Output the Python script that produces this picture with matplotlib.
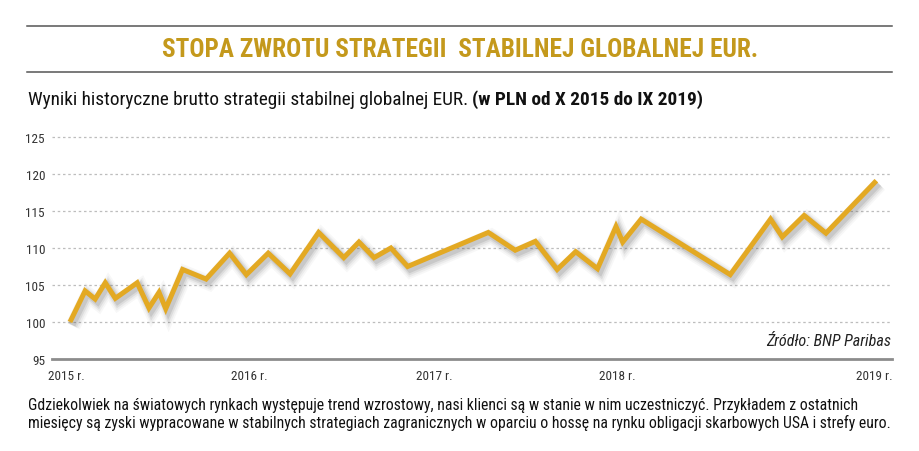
import matplotlib
matplotlib.use("Agg")
import matplotlib.pyplot as plt
from matplotlib import font_manager as fm
from matplotlib import patheffects as pe

# ---------------- data ----------------
title = "STOPA ZWROTU STRATEGII  STABILNEJ GLOBALNEJ EUR."
subtitle_regular = "Wyniki historyczne brutto strategii stabilnej globalnej EUR. "
subtitle_bold = "(w PLN od X 2015 do IX 2019)"
body_lines = [
    "Gdziekolwiek na światowych rynkach występuje trend wzrostowy, nasi klienci są w stanie w nim uczestniczyć. Przykładem z ostatnich",
    "miesięcy są zyski wypracowane w stabilnych strategiach zagranicznych w oparciu o hossę na rynku obligacji skarbowych USA i strefy euro.",
]
source = "Źródło: BNP Paribas"

# months since X 2015
months = [0, 0.9, 1.5, 2.1, 2.7, 4.0, 4.7, 5.3, 5.7, 6.7, 8.1, 9.5, 10.5, 11.8,
          13.1, 14.8, 16.3, 17.2, 18.1, 19.1, 20.1, 24.9, 26.5, 27.7, 29.0,
          30.1, 31.4, 32.5, 32.9, 34.0, 39.3, 41.7, 42.4, 43.7, 45.0, 48.0]
values = [100, 104.2, 103.1, 105.3, 103.2, 105.3, 101.9, 104.0, 101.8, 107.1,
          105.8, 109.3, 106.4, 109.3, 106.5, 112.1, 108.7, 110.8, 108.7, 110.0,
          107.5, 112.1, 109.7, 110.9, 107.1, 109.5, 107.2, 112.9, 110.8, 113.9,
          106.4, 113.9, 111.5, 114.4, 112.0, 119.1]
year_ticks = [-0.2, 10.7, 21.7, 32.6, 47.9]
year_labels = ["2015 r.", "2016 r.", "2017 r.", "2018 r.", "2019 r."]
y_ticks = [95, 100, 105, 110, 115, 120, 125]

# ---------------- fonts ----------------
names = {f.name for f in fm.fontManager.ttflist}
def pick(*cands):
    for c in cands:
        if c in names:
            return c
    return "DejaVu Sans"
narrow = pick("Liberation Sans Narrow", "Arial Narrow", "Roboto Condensed",
              "Open Sans Condensed", "Liberation Sans", "Roboto")
plt.rcParams["font.family"] = [narrow, "DejaVu Sans"]

W, H = 920, 452
fig = plt.figure(figsize=(W / 100, H / 100), dpi=100)
fig.patch.set_facecolor("white")

def fx(px):
    return px / W

def fy(py):
    return 1 - py / H

GOLD_T = "#C4991C"
GOLD_L = "#E3A923"

# ---------------- axes ----------------
ax = fig.add_axes([fx(52), fy(360), fx(892) - fx(52), fy(138) - fy(360)])
ax.set_xlim(-1.07, 48.93)
ax.set_ylim(95, 125)
for s in ["top", "right", "left"]:
    ax.spines[s].set_visible(False)
ax.spines["bottom"].set_color("#8c8c8c")
ax.spines["bottom"].set_linewidth(2.0)
ax.set_yticks(y_ticks)
ax.set_yticklabels([str(v) for v in y_ticks])
ax.set_xticks(year_ticks)
ax.set_xticklabels(year_labels)
ax.tick_params(axis="y", length=0, pad=5, labelsize=9.5, labelcolor="#333333")
ax.tick_params(axis="x", length=0, pad=7, labelsize=9.5, labelcolor="#333333")
for v in y_ticks[1:]:
    ax.axhline(v, color="#bdbdbd", lw=0.9, ls=(0, (2, 2.2)), zorder=1, clip_on=False)

shadow = [
    pe.SimpleLineShadow(offset=(2.2, -2.8), shadow_color="#666666", alpha=0.05, linewidth=11),
    pe.SimpleLineShadow(offset=(2.2, -2.8), shadow_color="#666666", alpha=0.07, linewidth=8.5),
    pe.SimpleLineShadow(offset=(2.0, -2.5), shadow_color="#555555", alpha=0.10, linewidth=6.5),
    pe.SimpleLineShadow(offset=(1.8, -2.2), shadow_color="#444444", alpha=0.13, linewidth=4.5),
    pe.Normal(),
]
ax.plot(months, values, color=GOLD_L, lw=3.6, solid_joinstyle="miter",
        solid_capstyle="butt", zorder=3, path_effects=shadow)

# ---------------- texts ----------------
fig.add_artist(plt.Line2D([fx(27), fx(892)], [fy(27), fy(27)], color="#555555", lw=1.1))
fig.add_artist(plt.Line2D([fx(27), fx(892)], [fy(73), fy(73)], color="#555555", lw=1.1))

t_title = fig.text(fx(460), fy(50), title, ha="center", va="center",
                   fontsize=20, fontweight="bold", color=GOLD_T)
t_sub1 = fig.text(fx(28), fy(100), subtitle_regular, ha="left", va="center",
                  fontsize=12, color="#111111")
t_sub2 = fig.text(fx(300), fy(100), subtitle_bold, ha="left", va="center",
                  fontsize=12, fontweight="bold", color="#111111")
t_b1 = fig.text(fx(28), fy(406), body_lines[0], ha="left", va="center",
                fontsize=10.5, color="#111111")
t_b2 = fig.text(fx(28), fy(423), body_lines[1], ha="left", va="center",
                fontsize=10.5, color="#111111")
t_src = fig.text(fx(891), fy(342), source, ha="right", va="center",
                 fontsize=11, fontstyle="italic", color="#222222")

def width(t):
    fig.canvas.draw()
    return t.get_window_extent().width

def fit(t, target):
    w = width(t)
    t.set_fontsize(t.get_fontsize() * target / w)

fit(t_title, 594)
fit(t_b2, 870)
t_b1.set_fontsize(t_b2.get_fontsize())
fit(t_src, 125)

# subtitle: two pieces, total width 677
fig.canvas.draw()
w1 = t_sub1.get_window_extent().width
w2 = t_sub2.get_window_extent().width
scale = 677 / (w1 + w2)
t_sub1.set_fontsize(t_sub1.get_fontsize() * scale)
t_sub2.set_fontsize(t_sub2.get_fontsize() * scale)
fig.canvas.draw()
x_end = t_sub1.get_window_extent().x1
t_sub2.set_x(x_end / W)

fig.savefig("out.png", dpi=100, facecolor="white")
